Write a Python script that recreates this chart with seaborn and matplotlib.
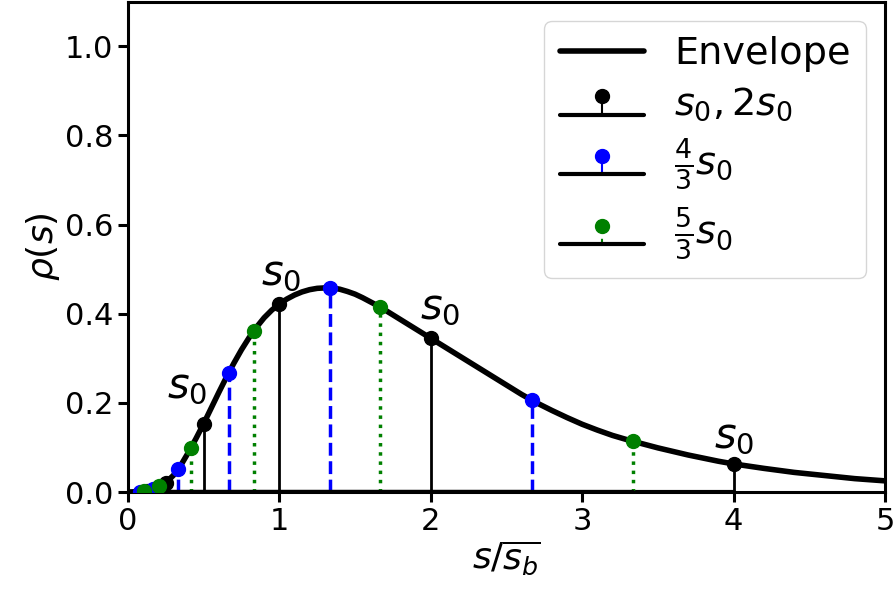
import numpy as np
import pandas as pd
import matplotlib
matplotlib.use("Agg")
import matplotlib.pyplot as plt
import seaborn as sns

# envelope rho(s), values
env_x = [0, 0.05, 0.1, 0.15, 0.2, 0.25, 0.3, 0.35, 0.4, 0.45, 0.5, 0.55, 0.6, 0.65,
         0.7, 0.75, 0.8, 0.85, 0.9, 0.95, 1.0, 1.05, 1.1, 1.15, 1.2, 1.25, 1.3, 1.35,
         1.4, 1.45, 1.5, 1.55, 1.6, 1.65, 1.7, 1.8, 1.9, 2.0, 2.1, 2.2, 2.3, 2.4, 2.5,
         2.6, 2.7, 2.8, 2.9, 3.0, 3.1, 3.2, 3.3, 3.4, 3.5, 3.6, 3.7, 3.8, 3.9, 4.0,
         4.2, 4.4, 4.6, 4.8, 5.0]
env_y = [0, 0.0005, 0.002, 0.005, 0.011, 0.021, 0.037, 0.060, 0.089, 0.120, 0.153, 0.188, 0.223, 0.257,
         0.289, 0.319, 0.346, 0.370, 0.391, 0.408, 0.422, 0.433, 0.442, 0.449, 0.454, 0.457, 0.458, 0.458,
         0.455, 0.450, 0.444, 0.436, 0.427, 0.418, 0.408, 0.387, 0.366, 0.345, 0.324, 0.303, 0.282, 0.261, 0.240,
         0.219, 0.200, 0.183, 0.167, 0.152, 0.139, 0.127, 0.117, 0.108, 0.099, 0.091, 0.083, 0.076, 0.069, 0.063,
         0.053, 0.044, 0.037, 0.030, 0.025]

# s0, 2s0 family
s0_x = [4, 2, 1, 0.5, 0.25, 0.125]
s0_y = [0.063, 0.345, 0.422, 0.153, 0.021, 0.003]
# 4/3 s0 family
s43_x = [8/3, 4/3, 2/3, 1/3, 1/6, 1/12]
s43_y = [0.206, 0.458, 0.268, 0.052, 0.006, 0.001]
# 5/3 s0 family
s53_x = [10/3, 5/3, 5/6, 5/12, 5/24, 5/48]
s53_y = [0.114, 0.415, 0.362, 0.099, 0.013, 0.002]

# where the s0 labels go
lab_x = [0.5, 1, 2, 4]
lab_y = [0.153, 0.422, 0.345, 0.063]
lab_dx = [-12, 1, 7, 0]
lab_dy = [12, 7, 7, 5]

sns.set_style("ticks")
plt.rcParams["font.family"] = ["DejaVu Sans"]
plt.rcParams["mathtext.fontset"] = "dejavusans"
for k in ["text.color", "axes.labelcolor", "xtick.color", "ytick.color", "axes.edgecolor"]:
    plt.rcParams[k] = "black"

fig, ax = plt.subplots(figsize=(8.94, 6.0), dpi=100)
fig.subplots_adjust(left=0.143, right=0.99, bottom=0.18, top=0.997)

env = pd.DataFrame({"s": env_x, "rho": env_y})
sns.lineplot(data=env, x="s", y="rho", color="k", lw=4, ax=ax, label="Envelope", zorder=2)

ml, sl, bl = ax.stem(s0_x, s0_y, linefmt="k-", markerfmt="ko", basefmt="k-", label=r"$s_0, 2s_0$")
plt.setp(ml, markersize=10, zorder=3); plt.setp(sl, linewidth=2); plt.setp(bl, linewidth=3)
ml, sl, bl = ax.stem(s43_x, s43_y, linefmt="b--", markerfmt="bo", basefmt="k-", label=r"$\frac{4}{3}s_0$")
plt.setp(ml, markersize=10, zorder=3); plt.setp(sl, linewidth=2.5); plt.setp(bl, linewidth=3)
ml, sl, bl = ax.stem(s53_x, s53_y, linefmt="g:", markerfmt="go", basefmt="k-", label=r"$\frac{5}{3}s_0$")
plt.setp(ml, markersize=10, zorder=3); plt.setp(sl, linewidth=2.5); plt.setp(bl, linewidth=3)

for x, y, dx, dy in zip(lab_x, lab_y, lab_dx, lab_dy):
    ax.annotate(r"$s_0$", (x, y), xytext=(dx, dy), textcoords="offset points",
                ha="center", va="bottom", fontsize=30)

ax.set_xlim(0, 5)
ax.set_ylim(0, 1.1)
ax.set_yticks([0, 0.2, 0.4, 0.6, 0.8, 1.0])
ax.set_xlabel(r"$s/\overline{s_b}$", fontsize=26, labelpad=2)
ax.set_ylabel(r"$\rho(s)$", fontsize=26, labelpad=2)
ax.tick_params(labelsize=22, width=2.2, length=7)
for sp in ax.spines.values():
    sp.set_linewidth(2.2)
    sp.set_visible(True)

ax.legend(loc="upper right", fontsize=27.5, handlelength=2.2, borderpad=0.4, labelspacing=0.35)

fig.savefig("out.png", dpi=100)
